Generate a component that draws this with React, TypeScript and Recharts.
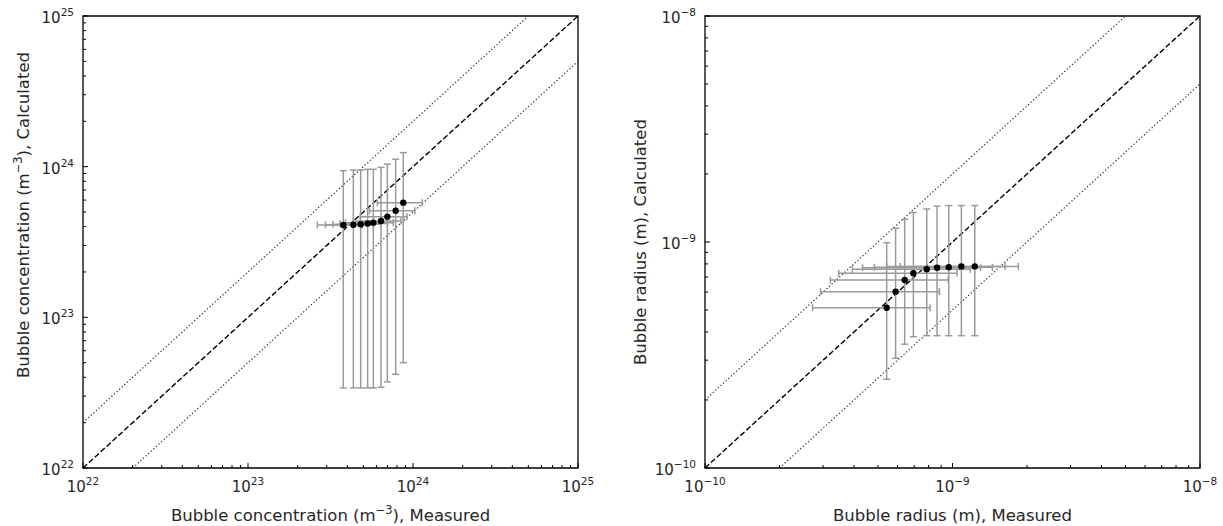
import React from 'react';
import { ScatterChart, Scatter, XAxis, YAxis, ErrorBar, ReferenceLine, ReferenceArea } from 'recharts';

// ---------- Left panel: bubble concentration (m^-3) ----------
const concMeasured = [3.78e23, 4.35e23, 4.82e23, 5.31e23, 5.75e23, 6.4e23, 6.99e23, 7.85e23, 8.73e23];
const concCalculated = [4.1e23, 4.12e23, 4.15e23, 4.2e23, 4.25e23, 4.36e23, 4.66e23, 5.1e23, 5.77e23];
const concMeasuredErr = [1.15e23, 1.4e23, 1.55e23, 1.7e23, 1.85e23, 2.05e23, 2.2e23, 2.4e23, 2.65e23];
const concCalcUpper = [9.4e23, 9.5e23, 9.5e23, 9.6e23, 9.6e23, 9.9e23, 1.04e24, 1.12e24, 1.24e24];
const concCalcLower = [3.4e22, 3.4e22, 3.4e22, 3.4e22, 3.4e22, 3.44e22, 3.73e22, 4.19e22, 5.0e22];
const concDomain = [1e22, 1e25];
const concMajorTicks = [1e22, 1e23, 1e24, 1e25];

// ---------- Right panel: bubble radius (m) ----------
const radMeasured = [5.42e-10, 5.89e-10, 6.41e-10, 6.95e-10, 7.87e-10, 8.66e-10, 9.66e-10, 1.086e-9, 1.23e-9];
const radCalculated = [5.12e-10, 6.03e-10, 6.79e-10, 7.27e-10, 7.57e-10, 7.69e-10, 7.73e-10, 7.8e-10, 7.8e-10];
const radMeasuredErr = [2.7e-10, 2.96e-10, 3.2e-10, 3.48e-10, 3.93e-10, 4.33e-10, 4.83e-10, 5.43e-10, 6.15e-10];
const radCalcUpper = [9.93e-10, 1.15e-9, 1.26e-9, 1.35e-9, 1.4e-9, 1.44e-9, 1.45e-9, 1.45e-9, 1.45e-9];
const radCalcLower = [2.47e-10, 3.06e-10, 3.53e-10, 3.81e-10, 3.85e-10, 3.85e-10, 3.85e-10, 3.85e-10, 3.85e-10];
const radDomain = [1e-10, 1e-8];
const radMajorTicks = [1e-10, 1e-9, 1e-8];

// minor tick mantissas (2..9 x 10^n)
const minorMantissas = [2, 3, 4, 5, 6, 7, 8, 9];

// reference line factors: y = x (dashed), y = 2x and y = x/2 (dotted)
const ratioLines = [
  { factor: 1, dash: '5.5 2.5', width: 1.4, color: '#000' },
  { factor: 2, dash: '1.3 2.2', width: 1.2, color: '#333' },
  { factor: 0.5, dash: '1.3 2.2', width: 1.2, color: '#333' },
];

const FONT = '"DejaVu Sans", sans-serif';
const TEXT = '#262626';

function buildRows(mx: number[], cy: number[], ex: number[], up: number[], lo: number[]) {
  return mx.map((x, i) => ({ x, y: cy[i], ex: ex[i], ey: [cy[i] - lo[i], up[i] - cy[i]] }));
}

function buildTicks(majors: number[]) {
  const out: number[] = [];
  majors.forEach((m, i) => {
    out.push(m);
    if (i < majors.length - 1) minorMantissas.forEach((k) => out.push(k * m));
  });
  return out;
}

function expOf(v: number) {
  return Math.round(Math.log10(v));
}
function isMajor(v: number) {
  const e = expOf(v);
  return Math.abs(v / Math.pow(10, e) - 1) < 1e-6;
}
function expText(e: number) {
  return e < 0 ? '\u2212' + String(-e) : String(e);
}

const XTick = (props: any) => {
  const { x, y, payload } = props;
  const v = payload.value;
  const major = isMajor(v);
  return (
    <g>
      <line x1={x} y1={y} x2={x} y2={y - (major ? 5 : 3)} stroke="#000" strokeWidth={1} />
      {major && (
        <text x={x} y={y + 24} textAnchor="middle" fontFamily={FONT} fontSize={15} fill={TEXT}>
          10<tspan dy={-7} fontSize={10.5}>{expText(expOf(v))}</tspan>
        </text>
      )}
    </g>
  );
};

const YTick = (props: any) => {
  const { x, y, payload } = props;
  const v = payload.value;
  const major = isMajor(v);
  return (
    <g>
      <line x1={x} y1={y} x2={x + (major ? 5 : 3)} y2={y} stroke="#000" strokeWidth={1} />
      {major && (
        <text x={x - 9} y={y + 7} textAnchor="end" fontFamily={FONT} fontSize={15} fill={TEXT}>
          10<tspan dy={-7} fontSize={10.5}>{expText(expOf(v))}</tspan>
        </text>
      )}
    </g>
  );
};

const Dot = (p: any) => <circle cx={p.cx} cy={p.cy} r={3.2} fill="#000" />;

function Panel(props: {
  left: number;
  width: number;
  yAxisWidth: number;
  rows: any[];
  domain: number[];
  majors: number[];
}) {
  const { left, width, yAxisWidth, rows, domain, majors } = props;
  const ticks = buildTicks(majors);
  const [lo, hi] = domain;
  return (
    <div style={{ position: 'absolute', left, top: 0 }}>
      <ScatterChart width={width} height={526} margin={{ top: 16, right: width === 600 ? 22 : 23, bottom: 18, left: 23 }}>
        <XAxis
          type="number"
          dataKey="x"
          scale="log"
          domain={domain}
          allowDataOverflow
          ticks={ticks}
          interval={0}
          tick={<XTick />}
          tickLine={false}
          axisLine={false}
          tickSize={0}
          tickMargin={0}
          height={40}
        />
        <YAxis
          type="number"
          dataKey="y"
          scale="log"
          domain={domain}
          allowDataOverflow
          ticks={ticks}
          interval={0}
          tick={<YTick />}
          tickLine={false}
          axisLine={false}
          tickSize={0}
          tickMargin={0}
          width={yAxisWidth}
        />
        <ReferenceArea x1={lo} x2={hi} y1={lo} y2={hi} fill="none" fillOpacity={0} stroke="#000" strokeWidth={1.3} ifOverflow="visible" />
        {ratioLines.map((r, i) => {
          const seg =
            r.factor >= 1
              ? [{ x: lo, y: lo * r.factor }, { x: hi / r.factor, y: hi }]
              : [{ x: lo / r.factor, y: lo }, { x: hi, y: hi * r.factor }];
          return (
            <ReferenceLine
              key={i}
              segment={seg}
              stroke={r.color}
              strokeWidth={r.width}
              strokeDasharray={r.dash}
              ifOverflow="visible"
            />
          );
        })}
        <Scatter data={rows} shape={<Dot />} isAnimationActive={false}>
          <ErrorBar dataKey="ex" direction="x" stroke="#9a9a9a" strokeWidth={1.5} width={3.5} isAnimationActive={false} />
          <ErrorBar dataKey="ey" direction="y" stroke="#9a9a9a" strokeWidth={1.5} width={3.5} isAnimationActive={false} />
        </Scatter>
      </ScatterChart>
    </div>
  );
}

export default function App() {
  const concRows = buildRows(concMeasured, concCalculated, concMeasuredErr, concCalcUpper, concCalcLower);
  const radRows = buildRows(radMeasured, radCalculated, radMeasuredErr, radCalcUpper, radCalcLower);
  return (
    <div style={{ position: 'absolute', left: 0, top: 0, width: 1223, height: 526, background: '#fff', overflow: 'hidden' }}>
      <Panel left={0} width={600} yAxisWidth={60} rows={concRows} domain={concDomain} majors={concMajorTicks} />
      <Panel left={612} width={611} yAxisWidth={70} rows={radRows} domain={radDomain} majors={radMajorTicks} />
      <svg width={1223} height={526} style={{ position: 'absolute', left: 0, top: 0, pointerEvents: 'none' }}>
        <text x={330.5} y={521} textAnchor="middle" fontFamily={FONT} fontSize={16.5} fill={TEXT}>
          Bubble concentration (m<tspan dy={-7} fontSize={11.5}>{'\u22123'}</tspan>
          <tspan dy={7}>), Measured</tspan>
        </text>
        <text x={952.5} y={521} textAnchor="middle" fontFamily={FONT} fontSize={16.5} fill={TEXT}>
          Bubble radius (m), Measured
        </text>
        <text transform="translate(23,215) rotate(-90)" x={0} y={6} textAnchor="middle" fontFamily={FONT} fontSize={16.5} fill={TEXT}>
          Bubble concentration (m<tspan dy={-7} fontSize={11.5}>{'\u22123'}</tspan>
          <tspan dy={7}>), Calculated</tspan>
        </text>
        <text transform="translate(640,242) rotate(-90)" x={0} y={6} textAnchor="middle" fontFamily={FONT} fontSize={16.5} fill={TEXT}>
          Bubble radius (m), Calculated
        </text>
      </svg>
    </div>
  );
}
